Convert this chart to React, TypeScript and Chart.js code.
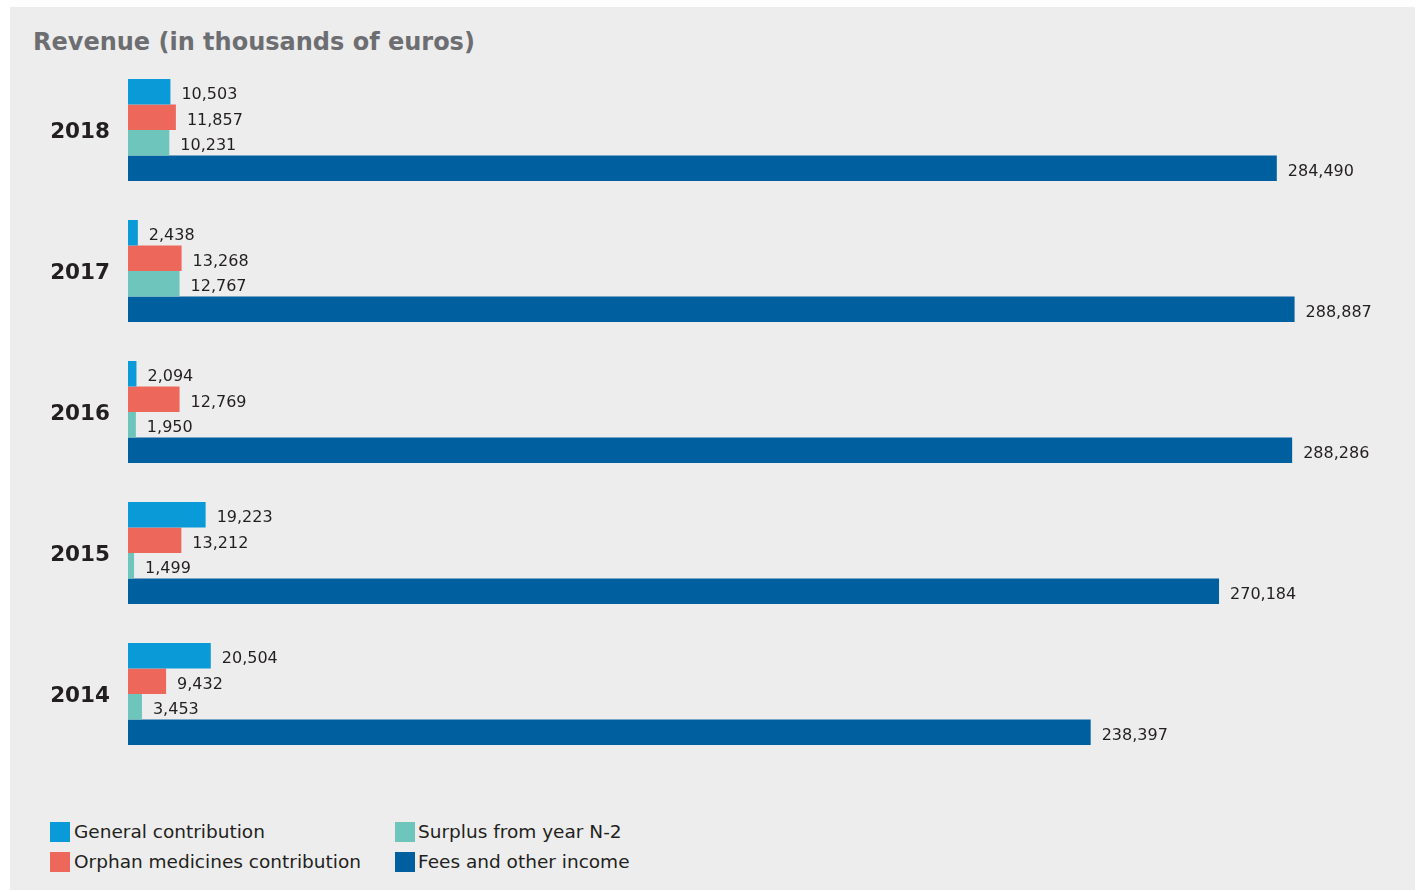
import React, { useEffect, useRef } from "react";
import { Chart, registerables } from "chart.js";

Chart.register(...registerables);

const years = ["2018", "2017", "2016", "2015", "2014"];
const generalContribution = [10503, 2438, 2094, 19223, 20504];
const orphanContribution = [11857, 13268, 12769, 13212, 9432];
const surplusN2 = [10231, 12767, 1950, 1499, 3453];
const feesIncome = [284490, 288887, 288286, 270184, 238397];

const seriesNames = [
  "General contribution",
  "Orphan medicines contribution",
  "Surplus from year N-2",
  "Fees and other income",
];
const seriesColors = ["#0a9ad8", "#ed675b", "#6dc5bb", "#005f9f"];

const FONT = "'DejaVu Sans', Verdana, sans-serif";

const valueLabels = {
  id: "valueLabels",
  afterDatasetsDraw(chart: any) {
    const ctx = chart.ctx;
    ctx.save();
    ctx.font = `16px ${FONT}`;
    ctx.fillStyle = "#231f20";
    ctx.textAlign = "left";
    ctx.textBaseline = "middle";
    chart.data.datasets.forEach((ds: any, di: number) => {
      const meta = chart.getDatasetMeta(di);
      meta.data.forEach((el: any, i: number) => {
        const v = ds.data[i] as number;
        ctx.fillText(v.toLocaleString("en-US"), el.x + 11, el.y + 3.5);
      });
    });
    ctx.restore();
  },
};

export default function App() {
  const ref = useRef<HTMLCanvasElement | null>(null);

  useEffect(() => {
    if (!ref.current) return;
    const seriesData = [generalContribution, orphanContribution, surplusN2, feesIncome];
    const chart = new Chart(ref.current, {
      type: "bar",
      data: {
        labels: years,
        datasets: seriesData.map((d, i) => ({
          label: seriesNames[i],
          data: d,
          backgroundColor: seriesColors[i],
          borderWidth: 0,
          barPercentage: 1.0,
          categoryPercentage: 0.723,
        })),
      },
      options: {
        indexAxis: "y",
        responsive: false,
        animation: false,
        devicePixelRatio: 1,
        layout: { padding: { top: 9.5, bottom: 15.5, left: 0, right: 17 } },
        plugins: {
          legend: { display: false },
          title: { display: false },
          tooltip: { enabled: false },
        },
        scales: {
          x: {
            display: false,
            min: 0,
            max: 314500,
          },
          y: {
            grid: { display: false, drawTicks: false },
            border: { display: false },
            ticks: {
              color: "#231f20",
              padding: 18,
              labelOffset: 2.5,
              font: { family: FONT, size: 21.5, weight: "bold" },
            },
            afterFit: (s: any) => {
              s.width = 118;
              s.paddingTop = 0;
              s.paddingBottom = 0;
            },
          },
        },
      },
      plugins: [valueLabels],
    } as any);
    return () => chart.destroy();
  }, []);

  return (
    <div
      style={{
        position: "absolute",
        left: 10,
        top: 7,
        width: 1405,
        height: 883,
        background: "#ededed",
        fontFamily: FONT,
      }}
    >
      <div
        style={{
          position: "absolute",
          left: 23,
          top: 22.5,
          fontSize: 24,
          lineHeight: "24px",
          fontWeight: "bold",
          color: "#6d6e71",
          whiteSpace: "nowrap",
        }}
      >
        Revenue (in thousands of euros)
      </div>
      <canvas
        ref={ref}
        width={1405}
        height={730}
        style={{ position: "absolute", left: 0, top: 43, width: 1405, height: 730 }}
      />
      {seriesNames.map((name, i) => {
        const col = i === 0 || i === 1 ? 0 : 1;
        const row = i === 0 || i === 2 ? 0 : 1;
        return (
          <div
            key={name}
            style={{
              position: "absolute",
              left: col === 0 ? 40 : 385,
              top: 815 + row * 30,
              height: 20,
              display: "flex",
              alignItems: "center",
              whiteSpace: "nowrap",
            }}
          >
            <span
              style={{
                display: "inline-block",
                width: 20,
                height: 20,
                background: seriesColors[i],
                marginRight: col === 0 ? 4 : 3,
              }}
            />
            <span style={{ fontSize: 18.5, color: "#231f20", lineHeight: "20px" }}>{name}</span>
          </div>
        );
      })}
    </div>
  );
}
